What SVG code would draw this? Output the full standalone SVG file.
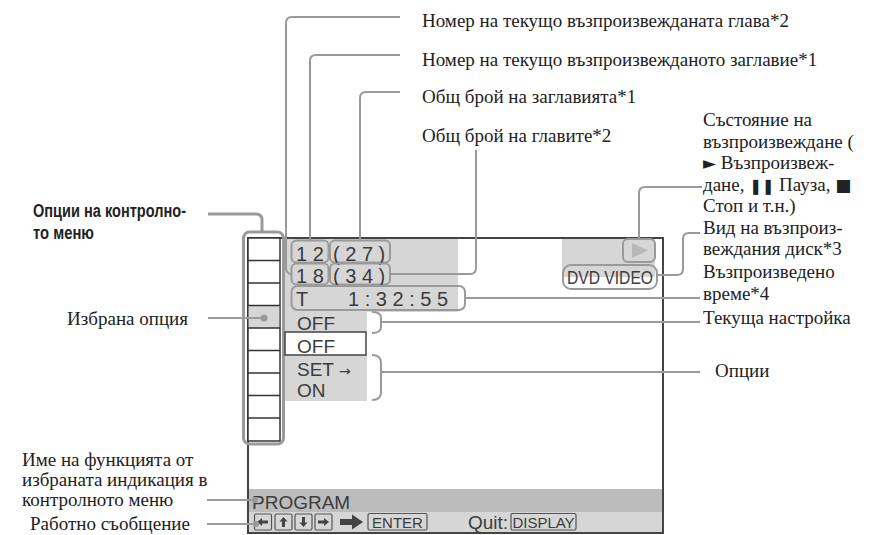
<svg xmlns="http://www.w3.org/2000/svg" width="872" height="535" viewBox="0 0 872 535">
<style>
.lbl{font-family:"Liberation Serif","DejaVu Serif",serif;font-size:19px;fill:#222}
.sym{font-family:"DejaVu Sans",sans-serif}
.bold{font-family:"Liberation Sans",Arial,sans-serif;font-weight:bold;font-size:18px;fill:#222}
.scr{font-family:"Liberation Sans",Arial,sans-serif;font-size:19px;fill:#3c3c3c}
.dig{font-family:"Liberation Sans",Arial,sans-serif;font-size:20px;fill:#3c3c3c}
.small{font-family:"Liberation Sans",Arial,sans-serif;font-size:15px;fill:#3c3c3c}
.con{fill:none;stroke:#9a9a9a;stroke-width:2}
.pill{fill:none;stroke:#9a9a9a;stroke-width:2}
.gray{fill:#d6d6d6}
.btn{fill:none;stroke:#555;stroke-width:1.2}
.ico{fill:#444}
</style>
<rect width="872" height="535" fill="#fff"/>

<g id="screen">
  <rect class="gray" x="285" y="239" width="173" height="73"/>
  <rect class="gray" x="562" y="239" width="93" height="38"/>
  <rect class="gray" x="285" y="312" width="82" height="20"/>
  <rect class="gray" x="285" y="355" width="82" height="46"/>
  <rect x="249" y="489" width="413" height="23" fill="#bcbcbc"/>
  <rect class="gray" x="249" y="512" width="413" height="20"/>
  <rect x="248" y="238" width="415" height="295" fill="none" stroke="#444" stroke-width="2"/>
</g>

<g id="control-menu-column">
  <rect x="248" y="238" width="32" height="203" fill="#fff" stroke="#333" stroke-width="1.5"/>
  <rect x="248.75" y="305.5" width="30.5" height="22.5" fill="#d6d6d6"/>
  <path d="M248,260.5H280M248,283H280M248,305.5H280M248,328H280M248,350.5H280M248,373H280M248,395.5H280M248,418H280" stroke="#333" stroke-width="1.5"/>
  <circle cx="264" cy="318" r="3.5" fill="#9a9a9a"/>
  <rect x="243.5" y="232" width="40" height="212" rx="6" fill="none" stroke="#9a9a9a" stroke-width="3"/>
</g>

<g id="title-chapter">
  <rect class="pill" x="291.5" y="240.5" width="37" height="22" rx="5"/>
  <text class="dig" x="296" y="261">1 2</text>
  <rect class="pill" x="330" y="240.5" width="60" height="22" rx="5"/>
  <text class="dig" x="333" y="261">( 2 7 )</text>
  <rect class="pill" x="291.5" y="263.5" width="37" height="21" rx="5"/>
  <text class="dig" x="296" y="283">1 8</text>
  <rect class="pill" x="330" y="263.5" width="60" height="21" rx="5"/>
  <text class="dig" x="333" y="283">( 3 4 )</text>
</g>

<g id="time">
  <rect class="pill" x="291.5" y="286" width="173.5" height="24" rx="6"/>
  <text class="dig" x="296" y="306">T</text>
  <text class="dig" x="348" y="306">1 : 3 2 : 5 5</text>
</g>

<g id="play-status">
  <rect class="pill" x="623" y="239" width="32" height="23" rx="5"/>
  <path d="M632,243L648,250.5L632,258Z" fill="#b8b8b8"/>
</g>

<g id="disc-type">
  <rect class="pill" x="563" y="265" width="94" height="24" rx="8"/>
  <text class="scr" x="567" y="284" textLength="86" lengthAdjust="spacingAndGlyphs">DVD VIDEO</text>
</g>

<g id="settings">
  <text class="scr" x="297" y="330">OFF</text>
  <rect x="285" y="332" width="81" height="23" fill="#fff" stroke="#444" stroke-width="1.5"/>
  <text class="scr" x="297" y="353">OFF</text>
  <text class="scr" x="297" y="376">SET <tspan class="sym" font-size="14">→</tspan></text>
  <text class="scr" x="297" y="397">ON</text>
</g>

<g id="program-bar">
  <text class="scr" x="252" y="509">PROGRAM</text>
  <rect class="btn" x="254.5" y="514" width="17" height="16" rx="1.5"/>
  <path class="ico" d="M257,522L262,518V520.5H268V523.5H262V526Z"/>
  <rect class="btn" x="275" y="514" width="17" height="16" rx="1.5"/>
  <path class="ico" d="M283.5,517L287.5,521.5H285V527H282V521.5H279.5Z"/>
  <rect class="btn" x="295" y="514" width="17" height="16" rx="1.5"/>
  <path class="ico" d="M303.5,527L307.5,522.5H305V517H302V522.5H299.5Z"/>
  <rect class="btn" x="315" y="514" width="17" height="16" rx="1.5"/>
  <path class="ico" d="M329,522L324,518V520.5H318V523.5H324V526Z"/>
  <path class="ico" d="M340,519H352V514.5L363,522L352,529.5V525H340Z"/>
  <rect class="btn" x="368" y="513.5" width="59" height="16.5" rx="1.5"/>
  <text class="small" x="397.5" y="528" text-anchor="middle">ENTER</text>
  <text class="scr" x="468" y="529">Quit:</text>
  <rect class="btn" x="511" y="513.5" width="65" height="16.5" rx="1.5"/>
  <text class="small" x="543.5" y="528" text-anchor="middle">DISPLAY</text>
</g>

<g id="connectors">
  <path class="con" d="M400,17H292Q286,17 286,23V268Q286,274 292,274"/>
  <path class="con" d="M400,55H316Q310,55 310,61V240"/>
  <path class="con" d="M400,92H366Q360,92 360,98V240"/>
  <path class="con" d="M476,150V268Q476,274 470,274H390"/>
  <path class="con" d="M702,187H645Q639,187 639,193V239"/>
  <path class="con" d="M700,233H689Q683,233 683,239V269Q683,275 677,275H657"/>
  <path class="con" d="M465,298H700"/>
  <path class="con" d="M372,312Q381,312 381,318V327Q381,333 372,333M381,322H700"/>
  <path class="con" d="M372,355Q381,355 381,363V392Q381,400 372,400M381,372H700"/>
  <path d="M208,214H256Q262,214 262,220V232" fill="none" stroke="#9a9a9a" stroke-width="3"/>
  <path class="con" d="M208,318H264"/>
  <path class="con" d="M207,500H255"/>
  <circle cx="255" cy="500" r="3" fill="#9a9a9a"/>
  <path class="con" d="M207,524H256"/>
  <circle cx="256" cy="524" r="3" fill="#9a9a9a"/>
</g>

<g id="labels">
  <text class="lbl" x="422" y="27">Номер на текущо възпроизвежданата глава*2</text>
  <text class="lbl" x="422" y="66">Номер на текущо възпроизвежданото заглавие*1</text>
  <text class="lbl" x="422" y="103">Общ брой на заглавията*1</text>
  <text class="lbl" x="422" y="142">Общ брой на главите*2</text>
  <text class="lbl" x="703" y="126">Състояние на</text>
  <text class="lbl" x="703" y="147.5">възпроизвеждане (</text>
  <text class="lbl" x="703" y="169"><tspan class="sym" font-size="17">►</tspan> Възпроизвеж-</text>
  <text class="lbl" x="703" y="190.5">дане, <tspan class="sym" font-size="15">❚❚</tspan> Пауза, <tspan class="sym" font-size="17">■</tspan></text>
  <text class="lbl" x="703" y="212">Стоп и т.н.)</text>
  <text class="lbl" x="703" y="233.5">Вид на възпроиз-</text>
  <text class="lbl" x="703" y="255">веждания диск*3</text>
  <text class="lbl" x="703" y="278">Възпроизведено</text>
  <text class="lbl" x="703" y="300">време*4</text>
  <text class="lbl" x="703" y="324">Текуща настройка</text>
  <text class="lbl" x="715" y="377">Опции</text>
  <text class="bold" x="33" y="217" textLength="153" lengthAdjust="spacingAndGlyphs">Опции на контролно-</text>
  <text class="bold" x="33" y="239" textLength="61" lengthAdjust="spacingAndGlyphs">то меню</text>
  <text class="lbl" x="188" y="325" text-anchor="end">Избрана опция</text>
  <text class="lbl" x="22" y="466">Име на функцията от</text>
  <text class="lbl" x="22" y="486">избраната индикация в</text>
  <text class="lbl" x="22" y="506">контролното меню</text>
  <text class="lbl" x="30" y="530">Работно съобщение</text>
</g>
</svg>
